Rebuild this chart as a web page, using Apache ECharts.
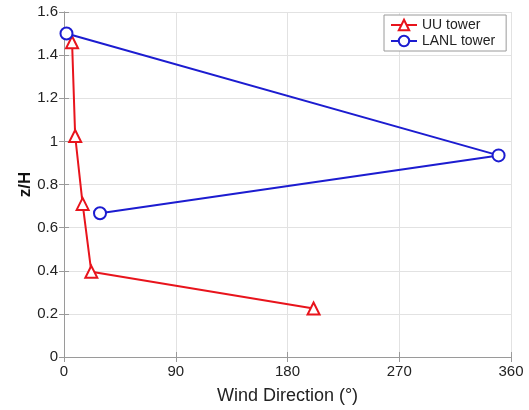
<!DOCTYPE html>
<html>
<head>
<meta charset="utf-8">
<script src="https://cdn.jsdelivr.net/npm/echarts@6/dist/echarts.min.js"></script>
<style>
html,body{margin:0;padding:0;background:#fff;}
#chart{width:529px;height:410px;}
</style>
</head>
<body>
<div id="chart"></div>
<script>
// Data (wind direction in degrees, z/H)
const uuDirection = [6.5, 9, 15, 22, 201];
const uuHeight = [1.46, 1.025, 0.71, 0.395, 0.225];
const lanlDirection = [2, 350, 29];
const lanlHeight = [1.5, 0.935, 0.667];
const xTicks = [0, 90, 180, 270, 360];
const yTicks = [0, 0.2, 0.4, 0.6, 0.8, 1, 1.2, 1.4, 1.6];
const seriesNames = ['UU tower', 'LANL tower'];

const pairs = (xs, ys) => xs.map((x, i) => [x, ys[i]]);

const chart = echarts.init(document.getElementById('chart'), null, {renderer: 'canvas'});
const FONT = 'Liberation Sans, Arial, sans-serif';
const axisCommon = {
  axisLine: {show: true, lineStyle: {color: '#9a9a9a', width: 1}},
  axisTick: {show: true, inside: true, length: 5, lineStyle: {color: '#9a9a9a'}},
};
chart.setOption({
  animation: false,
  backgroundColor: '#fff',
  grid: {left: 64, right: 18, top: 12, bottom: 46, containLabel: false},
  legend: {
    orient: 'vertical',
    left: 384, top: 15,
    width: 122,
    padding: [3, 11, 3, 6],
    itemGap: 2,
    itemWidth: 26, itemHeight: 13,
    borderColor: '#9a9a9a', borderWidth: 1,
    backgroundColor: '#fff',
    textStyle: {fontFamily: FONT, fontSize: 14, color: '#222'},
    data: seriesNames
  },
  xAxis: [{
    type: 'value', min: xTicks[0], max: xTicks[xTicks.length - 1], interval: 90,
    name: 'Wind Direction (°)', nameLocation: 'middle', nameGap: 30,
    nameTextStyle: {fontFamily: FONT, fontSize: 18, color: '#222'},
    axisLabel: {fontFamily: FONT, fontSize: 15, color: '#222', margin: 7},
    splitLine: {show: true, lineStyle: {color: '#e2e2e2', width: 1}},
    ...axisCommon
  }, {
    type: 'value', position: 'top', min: 0, max: 360, interval: 90,
    axisLabel: {show: false}, splitLine: {show: false},
    ...axisCommon
  }],
  yAxis: [{
    type: 'value', min: yTicks[0], max: yTicks[yTicks.length - 1], interval: 0.2,
    name: 'z/H', nameLocation: 'middle', nameGap: 30, nameMoveOverlap: false,
    nameTextStyle: {fontFamily: FONT, fontSize: 17, color: '#111', fontWeight: 'bold'},
    axisLabel: {fontFamily: FONT, fontSize: 15, color: '#222', margin: 6},
    splitLine: {show: true, lineStyle: {color: '#e2e2e2', width: 1}},
    ...axisCommon
  }, {
    type: 'value', position: 'right', min: 0, max: 1.6, interval: 0.2,
    axisLabel: {show: false}, splitLine: {show: false},
    ...axisCommon
  }],
  series: [{
    name: seriesNames[0], type: 'line',
    data: pairs(uuDirection, uuHeight),
    symbol: 'emptyTriangle', symbolSize: 12,
    color: '#e8141c',
    lineStyle: {color: '#e8141c', width: 2},
    itemStyle: {color: '#e8141c', borderColor: '#e8141c', borderWidth: 1.5},
    z: 3
  }, {
    name: seriesNames[1], type: 'line',
    data: pairs(lanlDirection, lanlHeight),
    symbol: 'emptyCircle', symbolSize: 12,
    color: '#1c1cd0',
    lineStyle: {color: '#1c1cd0', width: 2},
    itemStyle: {color: '#1c1cd0', borderColor: '#1c1cd0', borderWidth: 1.5},
    z: 4
  }]
});
</script>
</body>
</html>
